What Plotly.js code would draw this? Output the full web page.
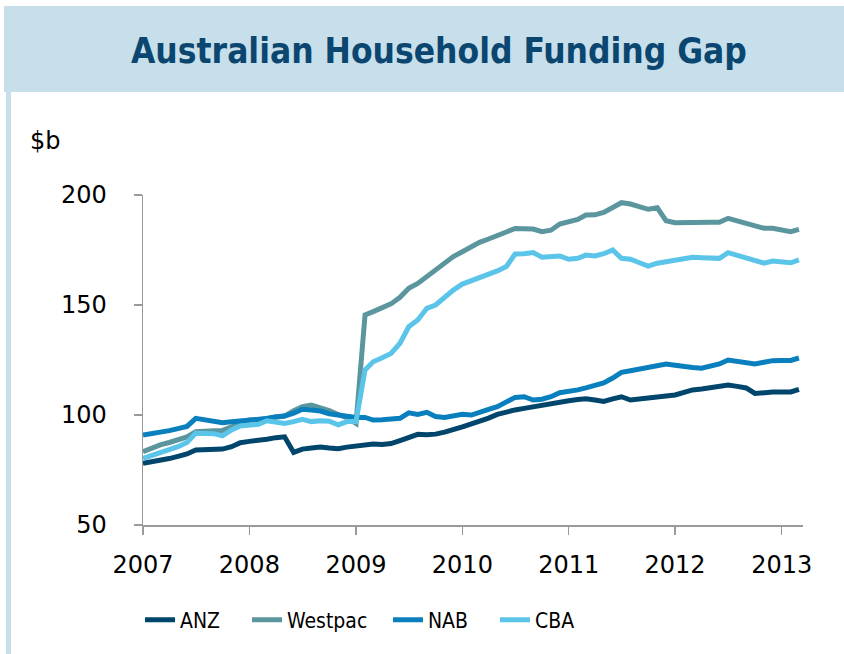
<!DOCTYPE html>
<html>
<head>
<meta charset="utf-8">
<script src="https://cdn.plot.ly/plotly-3.0.1.min.js"></script>
<style>
  body { margin: 0; background: #fff; }
  #myPlot { width: 844px; height: 654px; }
</style>
</head>
<body>
<div id="myPlot"></div>
<script>
// Monthly series, Jan 2007 .. Mar 2013 ($b)
var startYear = 2007;
var seriesNames = ["ANZ", "Westpac", "NAB", "CBA"];
var seriesColors = ["#00456b", "#5b969e", "#0a7fbd", "#5bc5e9"];

var anz = [78.0, 78.7, 79.2, 80.2, 81.2, 82.3, 84.1, 84.3, 84.4, 84.5, 85.6, 87.4,
    88.0, 88.3, 89.0, 89.7, 90.1, 83.0, 84.5, 85.0, 85.5, 85.0, 84.7, 85.4,
    86.0, 86.4, 86.8, 86.6, 87.0, 88.4, 90.0, 91.2, 91.0, 91.3, 92.2, 93.2,
    94.6, 96.0, 97.0, 98.6, 100.3, 101.6, 102.3, 103.0, 103.8, 104.3, 105.2, 106.0,
    106.5, 107.0, 107.4, 106.8, 106.2, 107.3, 108.3, 106.8, 107.2, 107.3, 108.0, 108.6,
    109.1, 110.2, 111.4, 111.8, 112.4, 112.7, 113.6, 113.0, 112.3, 109.8, 110.2, 110.4,
    110.4, 110.5, 111.7];

var westpac = [83.3, 85.0, 86.4, 87.5, 88.8, 90.0, 92.4, 92.8, 92.8, 93.0, 94.5, 96.0,
    97.7, 97.9, 98.5, 99.2, 99.5, 102.0, 103.8, 104.5, 103.5, 102.0, 100.2, 98.8,
    96.2, 145.5, 147.0, 148.5, 150.5, 153.5, 157.6, 159.8, 162.9, 165.5, 168.8, 172.0,
    174.2, 176.5, 178.5, 180.0, 181.8, 183.2, 184.8, 184.6, 184.5, 183.3, 184.0, 186.8,
    188.0, 188.9, 190.9, 191.0, 192.1, 194.5, 196.5, 195.9, 194.6, 193.5, 194.2, 188.3,
    187.4, 187.5, 187.9, 187.8, 187.6, 187.6, 189.4, 188.2, 187.1, 185.8, 184.9, 184.9,
    184.2, 183.3, 184.4];

var nab = [90.9, 91.5, 92.3, 92.9, 93.8, 94.8, 98.5, 97.8, 97.2, 96.5, 96.9, 97.2,
    97.5, 97.7, 98.4, 99.2, 99.5, 100.8, 102.6, 102.3, 101.8, 100.6, 100.0, 99.4,
    98.9, 98.9, 97.7, 97.8, 97.9, 98.5, 101.0, 100.3, 101.2, 99.3, 98.9, 99.6,
    100.3, 100.0, 101.5, 102.6, 103.8, 105.8, 108.0, 108.3, 106.8, 107.2, 108.3, 110.1,
    110.6, 111.4, 112.3, 113.2, 114.6, 116.8, 119.4, 120.1, 121.0, 122.0, 122.8, 123.2,
    122.6, 121.9, 121.6, 121.3, 122.0, 123.2, 125.0, 124.3, 123.8, 123.2, 124.0, 124.7,
    124.8, 124.8, 125.9];

var cba = [80.3, 81.8, 83.3, 84.3, 85.6, 87.5, 91.7, 91.7, 91.5, 90.5, 93.2, 95.0,
    95.5, 95.8, 97.4, 97.0, 96.2, 97.0, 98.0, 97.0, 97.4, 97.2, 95.5, 97.0,
    97.0, 120.5, 124.2, 126.0, 128.0, 132.6, 140.1, 143.2, 148.5, 150.0, 153.5, 156.8,
    159.5, 161.0, 162.5, 164.0, 165.5, 167.5, 173.2, 173.3, 173.8, 171.7, 172.0, 172.3,
    170.8, 171.2, 172.7, 172.3, 173.3, 175.0, 171.2, 170.8, 169.2, 167.7, 169.0, 169.7,
    170.0, 170.8, 171.7, 171.5, 171.2, 171.2, 173.8, 172.7, 171.7, 170.3, 169.0, 170.0,
    169.6, 169.2, 170.5];

var yTicks = [50, 100, 150, 200];
var xTickLabels = ["2007", "2008", "2009", "2010", "2011", "2012", "2013"];

// month dates for the x axis
var months = [];
for (var i = 0; i < anz.length; i++) {
    var yr = startYear + Math.floor(i / 12);
    var mo = (i % 12) + 1;
    months.push(yr + "-" + (mo < 10 ? "0" + mo : mo) + "-01");
}

// one legend per series so the entries sit where the original puts them
var legendIds = ["legend", "legend2", "legend3", "legend4"];
var legendX = [-0.0045, 0.1576, 0.3712, 0.5333];

var allValues = [anz, westpac, nab, cba];
var data = [];
for (var s = 0; s < seriesNames.length; s++) {
    data.push({
        x: months,
        y: allValues[s],
        name: seriesNames[s],
        mode: "lines",
        legend: legendIds[s],
        line: { color: seriesColors[s], width: 5 }
    });
}

var xTickVals = xTickLabels.map(function (t) { return t + "-01-01"; });

var bannerColor = "#c7dfea";
var layout = {
    width: 844,
    height: 654,
    margin: { l: 143, r: 41, t: 195, b: 129 },
    paper_bgcolor: "#ffffff",
    plot_bgcolor: "#ffffff",
    font: { family: "DejaVu Sans, Verdana, sans-serif", size: 24, color: "#000" },
    showlegend: true,
    xaxis: {
        type: "date",
        range: ["2007-01-01", "2013-03-15"],
        tickvals: xTickVals,
        ticktext: xTickLabels,
        ticks: "outside",
        ticklen: 8,
        tickwidth: 1.5,
        tickcolor: "#9a9a9a",
        showline: true,
        linecolor: "#9a9a9a",
        linewidth: 1.5,
        showgrid: false,
        zeroline: false,
        ticklabelstandoff: 10
    },
    yaxis: {
        range: [50, 200],
        tickvals: yTicks,
        ticks: "outside",
        ticklen: 8,
        tickwidth: 1.5,
        tickcolor: "#9a9a9a",
        showline: true,
        linecolor: "#9a9a9a",
        linewidth: 1.5,
        showgrid: false,
        zeroline: false,
        ticklabelstandoff: 22
    },
    shapes: [
        // title banner
        { type: "rect", xref: "paper", yref: "paper", layer: "below",
          x0: -0.2106, x1: 1.07, y0: 1.3121, y1: 1.5727,
          fillcolor: bannerColor, line: { width: 0 } },
        // left border strip
        { type: "rect", xref: "paper", yref: "paper", layer: "below",
          x0: -0.2076, x1: -0.2, y0: -0.4, y1: 1.3121,
          fillcolor: bannerColor, line: { width: 0 } }
    ],
    annotations: [
        { text: "<b>Australian Household Funding Gap</b>", xref: "paper", yref: "paper",
          x: 0.4485, y: 1.436, xanchor: "center", yanchor: "middle", showarrow: false,
          font: { family: "DejaVu Sans Condensed, DejaVu Sans, sans-serif", size: 35, color: "#0a4670" } },
        { text: "$b", xref: "paper", yref: "paper",
          x: -0.174, y: 1.165, xanchor: "left", yanchor: "middle", showarrow: false,
          font: { family: "DejaVu Sans, Verdana, sans-serif", size: 24, color: "#000" } }
    ]
};

var legendFont = { family: "DejaVu Sans Condensed, Liberation Sans Narrow, sans-serif", size: 21, color: "#000" };
for (var k = 0; k < legendIds.length; k++) {
    layout[legendIds[k]] = {
        orientation: "h",
        x: legendX[k], xanchor: "left",
        y: -0.288, yanchor: "middle",
        bgcolor: "rgba(0,0,0,0)",
        font: legendFont
    };
}

Plotly.newPlot("myPlot", data, layout, { staticPlot: true });
</script>
</body>
</html>
